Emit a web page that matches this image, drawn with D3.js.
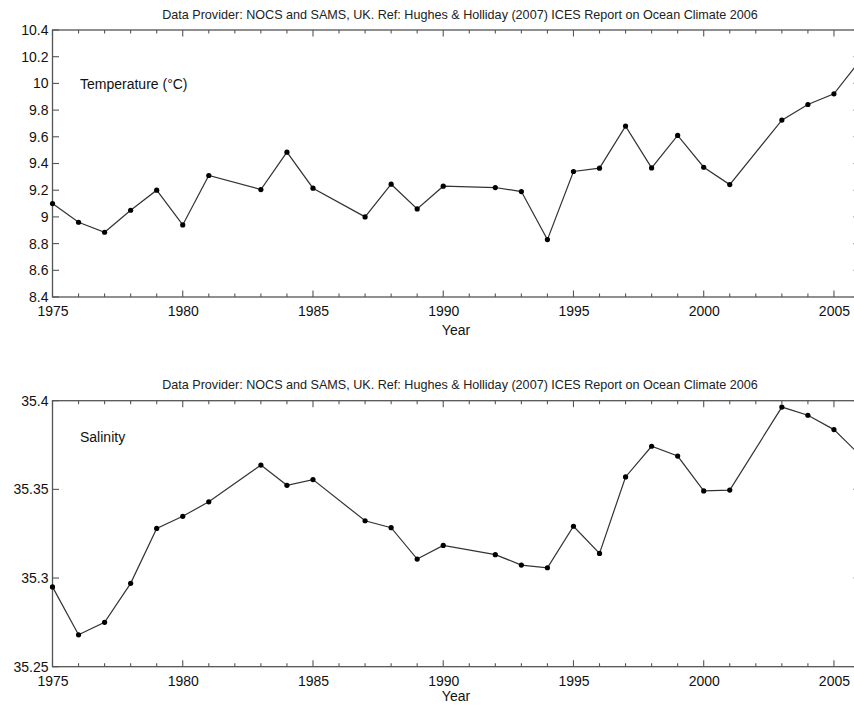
<!DOCTYPE html>
<html>
<head>
<meta charset="utf-8">
<script src="https://cdn.jsdelivr.net/npm/d3@7"></script>
<style>
  html, body { margin: 0; padding: 0; background: #fff; overflow: hidden; }
  svg { display: block; font-family: "Liberation Sans", Arial, Helvetica, sans-serif; }
</style>
</head>
<body>
<svg id="chart" width="854" height="706"></svg>
<script>
// Annual mean values, Rockall Trough upper ocean
const tempYears = [1975,1976,1977,1978,1979,1980,1981,1983,1984,1985,1987,1988,1989,1990,1992,1993,1994,1995,1996,1997,1998,1999,2000,2001,2003,2004,2005,2006];
const tempValues = [9.10,8.96,8.885,9.05,9.20,8.94,9.31,9.205,9.485,9.215,9.00,9.245,9.06,9.23,9.22,9.19,8.83,9.34,9.365,9.68,9.367,9.61,9.372,9.242,9.725,9.842,9.922,10.17];

const salYears = [1975,1976,1977,1978,1979,1980,1981,1983,1984,1985,1987,1988,1989,1990,1992,1993,1994,1995,1996,1997,1998,1999,2000,2001,2003,2004,2005,2006];
const salValues = [35.295,35.268,35.275,35.297,35.328,35.3348,35.343,35.3637,35.3523,35.3555,35.3323,35.3284,35.3107,35.3184,35.3132,35.3073,35.3058,35.3292,35.3139,35.357,35.3743,35.3688,35.3491,35.3496,35.3964,35.3918,35.3837,35.3693];

const tempTicks = [8.4,8.6,8.8,9,9.2,9.4,9.6,9.8,10,10.2,10.4];
const salTicks = [35.25,35.3,35.35,35.4];
const yearTicks = [1975,1980,1985,1990,1995,2000,2005];
const minorYears = d3.range(1975, 2007);

const titleText = "Data Provider: NOCS and SAMS, UK. Ref: Hughes & Holliday (2007) ICES Report on Ocean Climate 2006";

const svg = d3.select("#chart");
const left = 52.5, right = 860;

function panel(opts) {
  const g = svg.append("g");
  const x = d3.scaleLinear().domain([1975, 2006]).range([left, right]);
  const y = d3.scaleLinear().domain(opts.yDomain).range([opts.bottom, opts.top]);
  const axisColor = "#555";

  // frame
  g.append("rect")
    .attr("x", left).attr("y", opts.top)
    .attr("width", right - left).attr("height", opts.bottom - opts.top)
    .attr("fill", "none").attr("stroke", axisColor).attr("stroke-width", 1.3);

  // bottom/top year ticks pointing inward
  const xt = g.append("g");
  minorYears.forEach(yr => {
    const major = yr % 5 === 0;
    const len = major ? 6.5 : 3.5;
    xt.append("line").attr("x1", x(yr)).attr("x2", x(yr))
      .attr("y1", opts.bottom).attr("y2", opts.bottom - len)
      .attr("stroke", axisColor).attr("stroke-width", 1.1);
    xt.append("line").attr("x1", x(yr)).attr("x2", x(yr))
      .attr("y1", opts.top).attr("y2", opts.top + len)
      .attr("stroke", axisColor).attr("stroke-width", 1.1);
  });

  // left axis labels through d3 axis
  const yAxis = d3.axisLeft(y).tickValues(opts.yTicks).tickSize(0).tickPadding(4)
    .tickFormat(d => opts.fmt(d));
  const ya = g.append("g").attr("transform", `translate(${left},0)`).call(yAxis);
  ya.select(".domain").remove();
  ya.selectAll("text").attr("font-size", 14).attr("fill", "#111")
    .attr("font-family", "'Liberation Sans', Arial, sans-serif");

  // y ticks on both sides, pointing inward
  opts.yTicks.forEach(v => {
    g.append("line").attr("x1", left).attr("x2", left + 6.5)
      .attr("y1", y(v)).attr("y2", y(v)).attr("stroke", axisColor).attr("stroke-width", 1.1);
    g.append("line").attr("x1", right).attr("x2", right - 6.5)
      .attr("y1", y(v)).attr("y2", y(v)).attr("stroke", axisColor).attr("stroke-width", 1.1);
  });

  // x axis labels
  const xAxis = d3.axisBottom(x).tickValues(yearTicks).tickSize(0).tickPadding(9)
    .tickFormat(d3.format("d"));
  const xa = g.append("g").attr("transform", `translate(0,${opts.bottom})`).call(xAxis);
  xa.select(".domain").remove();
  xa.selectAll("text").attr("font-size", 14).attr("fill", "#111")
    .attr("font-family", "'Liberation Sans', Arial, sans-serif");

  // x axis title
  g.append("text").attr("x", 456).attr("y", opts.bottom + opts.yearDy)
    .attr("text-anchor", "middle").attr("font-size", 14).attr("fill", "#111")
    .text("Year");

  // title above frame
  g.append("text").attr("x", 460).attr("y", opts.top - 11.5)
    .attr("text-anchor", "middle").attr("font-size", 12.6).attr("fill", "#222")
    .text(titleText);

  // variable name inside
  g.append("text").attr("x", 80).attr("y", opts.labelY)
    .attr("font-size", 14).attr("fill", "#111")
    .text(opts.label);

  // data
  const data = opts.years.map((yr, i) => ({ yr, v: opts.values[i] }));
  const line = d3.line().x(d => x(d.yr)).y(d => y(d.v));
  g.append("path").datum(data).attr("d", line)
    .attr("fill", "none").attr("stroke", "#333").attr("stroke-width", 1.2);
  g.selectAll("circle.pt").data(data).enter().append("circle")
    .attr("class", "pt")
    .attr("cx", d => x(d.yr)).attr("cy", d => y(d.v)).attr("r", 2.6)
    .attr("fill", "#000");
}

panel({
  top: 30, bottom: 297, yDomain: [8.4, 10.4], yTicks: tempTicks,
  fmt: d3.format("~g"), years: tempYears, values: tempValues,
  label: "Temperature (\u00B0C)", labelY: 89, yearDy: 38
});

panel({
  top: 400.7, bottom: 666.7, yDomain: [35.25, 35.4], yTicks: salTicks,
  fmt: d => String(+d.toFixed(2)), years: salYears, values: salValues,
  label: "Salinity", labelY: 442, yearDy: 34.5
});
</script>
</body>
</html>
